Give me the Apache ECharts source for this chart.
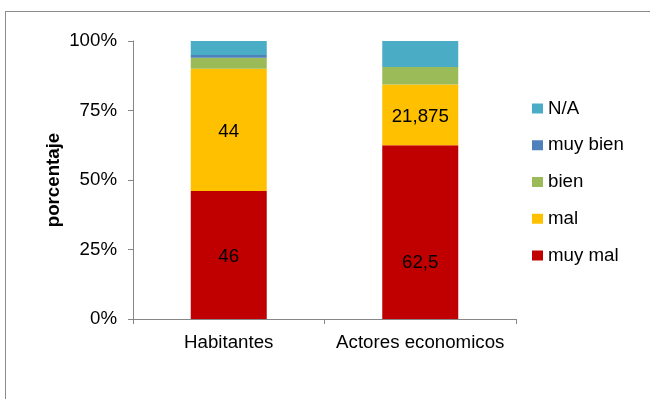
<!DOCTYPE html>
<html>
<head>
<meta charset="utf-8">
<script src="https://cdn.jsdelivr.net/npm/echarts@6/dist/echarts.min.js"></script>
<style>
html,body{margin:0;padding:0;background:#fff;overflow:hidden;}
#frame{position:absolute;left:5px;top:11px;width:800px;height:600px;border:1px solid #8c8c8c;box-sizing:border-box;}
#chart{position:absolute;left:0;top:0;width:650px;height:399px;}
</style>
</head>
<body>
<div id="frame"></div>
<div id="chart"></div>
<script>
var categories = ['Habitantes', 'Actores economicos'];
var muyMal = [46, 62.5];
var mal = [44, 21.875];
var bien = [4, 6.25];
var muyBien = [1, 0];
var na = [5, 9.375];
var yTicks = ['0%', '25%', '50%', '75%', '100%'];
var legendOrder = ['N/A', 'muy bien', 'bien', 'mal', 'muy mal'];

var FONT = 'Liberation Sans, Arial, sans-serif';
var FS = 18.7;
function fmt(p) { return String(p.value).replace('.', ','); }
function mk(name, data, color, showLabel, offsets) {
  var d = data.map(function (v, i) {
    if (offsets && offsets[i]) return { value: v, label: { offset: offsets[i] } };
    return v;
  });
  return {
    name: name, type: 'bar', stack: 'total', data: d, barWidth: 76,
    itemStyle: { color: color },
    label: { show: showLabel, position: 'inside', offset: [0, 2], formatter: fmt, color: '#000', fontSize: FS, fontFamily: FONT }
  };
}
var chart = echarts.init(document.getElementById('chart'), null, { renderer: 'canvas' });
chart.setOption({
  animation: false,
  backgroundColor: 'transparent',
  textStyle: { fontFamily: FONT },
  grid: { left: 133, right: 134, top: 41, bottom: 80, containLabel: false },
  legend: {
    orient: 'vertical', left: 527, top: 93, itemWidth: 11, itemHeight: 10, itemGap: 15.75,
    icon: 'rect', data: legendOrder,
    textStyle: { fontSize: FS, color: '#000', fontFamily: FONT, lineHeight: 21 }
  },
  xAxis: {
    type: 'category', data: categories,
    axisLine: { lineStyle: { color: '#868686', width: 1 } },
    axisTick: { show: true, length: 5, lineStyle: { color: '#868686' } },
    axisLabel: { color: '#000', fontSize: FS, fontFamily: FONT, margin: 14, interval: 0 }
  },
  yAxis: {
    type: 'value', min: 0, max: 100, interval: 25,
    name: 'porcentaje', nameLocation: 'middle', nameGap: 70, nameMoveOverlap: false,
    nameTextStyle: { fontSize: FS, fontWeight: 'bold', color: '#000', fontFamily: FONT },
    splitLine: { show: false },
    axisLine: { show: true, lineStyle: { color: '#868686', width: 1 } },
    axisTick: { show: true, length: 5, lineStyle: { color: '#868686' } },
    axisLabel: { color: '#000', fontSize: FS, fontFamily: FONT, margin: 16,
      formatter: function (v) { return yTicks[Math.round(v / 25)]; } }
  },
  series: [
    mk('muy mal', muyMal, '#C00000', true, [null, [0, 31]]),
    mk('mal', mal, '#FFC000', true),
    mk('bien', bien, '#9BBB59', false),
    mk('muy bien', muyBien, '#4F81BD', false),
    mk('N/A', na, '#4BACC6', false)
  ]
});
</script>
</body>
</html>
